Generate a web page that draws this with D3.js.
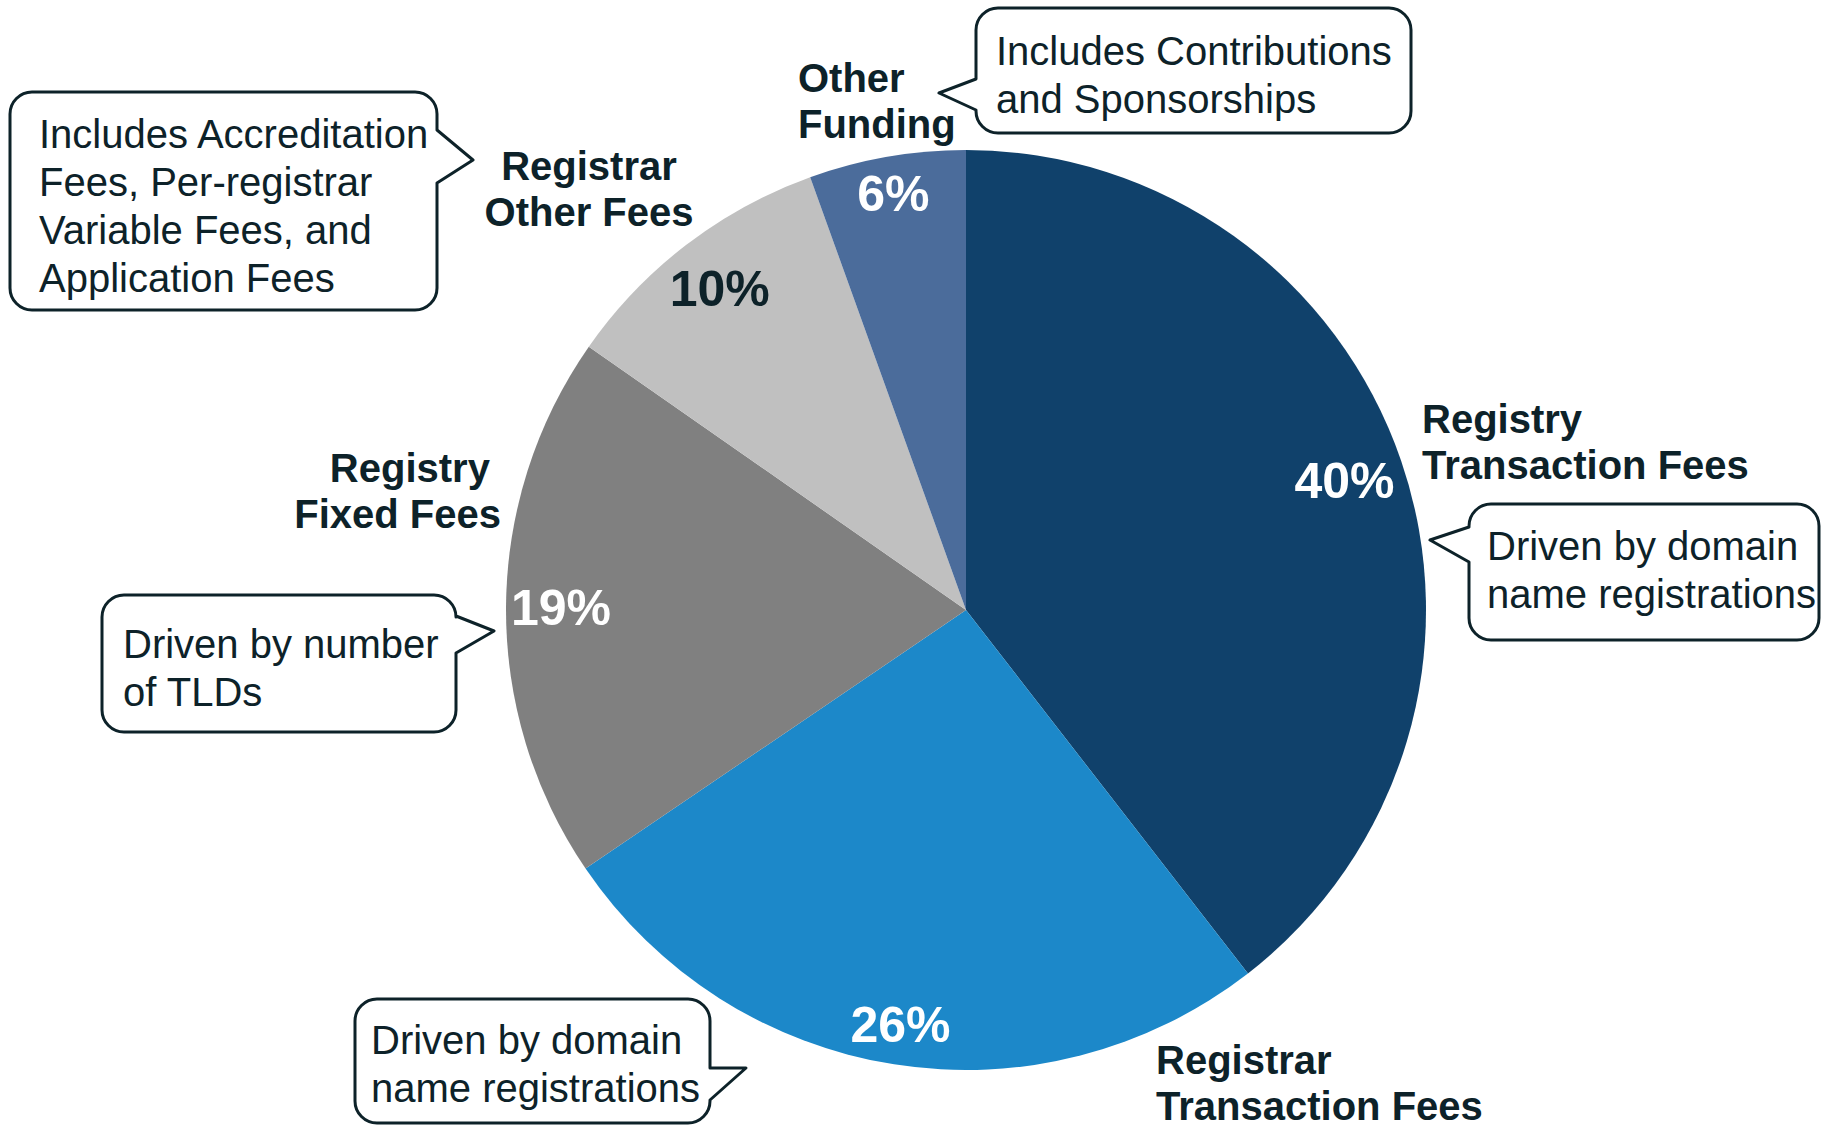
<!DOCTYPE html>
<html>
<head>
<meta charset="utf-8">
<script src="https://cdn.jsdelivr.net/npm/d3@7"></script>
<style>
  html, body { margin: 0; padding: 0; background: #fff; }
  svg { display: block; }
  text { font-family: "Liberation Sans", Arial, sans-serif; }
</style>
</head>
<body>
<svg id="chart" width="1822" height="1128"></svg>
<script>
// slices, clockwise from 12 o'clock
const categories = ["Registry Transaction Fees", "Registrar Transaction Fees", "Registry Fixed Fees", "Registrar Other Fees", "Other Funding"]
const shares = [39.5, 26.0, 19.2, 9.8, 5.5]
const pctLabels = ["40%", "26%", "19%", "10%", "6%"]
const notes = [
  ["Driven by domain", "name registrations"],
  ["Driven by domain", "name registrations"],
  ["Driven by number", "of TLDs"],
  ["Includes Accreditation", "Fees, Per-registrar", "Variable Fees, and", "Application Fees"],
  ["Includes Contributions", "and Sponsorships"]
]

const colors = ["#10416b", "#1c88c9", "#808080", "#c0c0c0", "#4b6c9b"]
const pctColors = ["#fff", "#fff", "#fff", "#0d2229", "#fff"]
const ink = "#0d2229"

const svg = d3.select("#chart")
const cx = 966, cy = 610, R = 460
// distance of each % label from the centre
const labelR = [400, 419, 405, 405, 423]

const pie = d3.pie().sort(null).value(d => d)
const arcs = pie(shares)
const arc = d3.arc().innerRadius(0).outerRadius(R)

const g = svg.append("g").attr("transform", `translate(${cx},${cy})`)

g.selectAll("path.slice")
  .data(arcs)
  .join("path")
  .attr("class", "slice")
  .attr("d", arc)
  .attr("fill", (d, i) => colors[i])

g.selectAll("text.pct")
  .data(arcs)
  .join("text")
  .attr("class", "pct")
  .attr("transform", (d, i) => {
    const a = d3.arc().innerRadius(labelR[i]).outerRadius(labelR[i])
    return `translate(${a.centroid(d)})`
  })
  .attr("text-anchor", "middle")
  .attr("dy", "0.36em")
  .attr("font-size", 50)
  .attr("font-weight", "bold")
  .attr("fill", (d, i) => pctColors[i])
  .text((d, i) => pctLabels[i])

// category label placement (split in two lines)
const catLines = [
  ["Registry", "Transaction Fees"],
  ["Registrar", "Transaction Fees"],
  ["Registry ", "Fixed Fees"],
  ["Registrar", "Other Fees"],
  ["Other", "Funding"]
]
const catPos = [
  {x: 1422, y: 433, anchor: "start"},
  {x: 1156, y: 1074, anchor: "start"},
  {x: 501, y: 482, anchor: "end"},
  {x: 589, y: 180, anchor: "middle"},
  {x: 798, y: 92, anchor: "start"}
]

catLines.forEach((lines, i) => {
  const t = svg.append("text")
    .attr("x", catPos[i].x).attr("y", catPos[i].y)
    .attr("text-anchor", catPos[i].anchor)
    .attr("font-size", 40).attr("font-weight", "bold")
    .attr("fill", ink)
    .style("white-space", "pre")
  lines.forEach((s, j) => {
    t.append("tspan").attr("x", catPos[i].x).attr("dy", j ? 46 : 0).text(s)
  })
})

// callout boxes: box edges, side of the pointer, pointer joins and tip
const callouts = [
  {x0: 1469, y0: 504, x1: 1819, y1: 640, side: "left", p1: 527, p2: 562, tip: [1430, 540], tx: 1487, ty: 560},
  {x0: 355, y0: 999, x1: 710, y1: 1123, side: "right", p1: 1068, p2: 1100, tip: [746, 1068], tx: 371, ty: 1054},
  {x0: 102, y0: 595, x1: 456, y1: 732, side: "right", p1: 616, p2: 653, tip: [494, 631], tx: 123, ty: 658},
  {x0: 10, y0: 92, x1: 437, y1: 310, side: "right", p1: 130, p2: 183, tip: [473, 160], tx: 39, ty: 148},
  {x0: 976, y0: 8, x1: 1411, y1: 133, side: "left", p1: 79, p2: 110, tip: [939, 93], tx: 996, ty: 65}
]

function bubble(c) {
  const r = 22, p = d3.path()
  p.moveTo(c.x0 + r, c.y0)
  p.lineTo(c.x1 - r, c.y0)
  p.arcTo(c.x1, c.y0, c.x1, c.y0 + r, r)
  if (c.side === "right") {
    p.lineTo(c.x1, c.p1)
    p.lineTo(c.tip[0], c.tip[1])
    p.lineTo(c.x1, c.p2)
  }
  p.lineTo(c.x1, c.y1 - r)
  p.arcTo(c.x1, c.y1, c.x1 - r, c.y1, r)
  p.lineTo(c.x0 + r, c.y1)
  p.arcTo(c.x0, c.y1, c.x0, c.y1 - r, r)
  if (c.side === "left") {
    p.lineTo(c.x0, c.p2)
    p.lineTo(c.tip[0], c.tip[1])
    p.lineTo(c.x0, c.p1)
  }
  p.lineTo(c.x0, c.y0 + r)
  p.arcTo(c.x0, c.y0, c.x0 + r, c.y0, r)
  p.closePath()
  return p.toString()
}

callouts.forEach((c, i) => {
  svg.append("path")
    .attr("d", bubble(c))
    .attr("fill", "#fff")
    .attr("stroke", ink)
    .attr("stroke-width", 3)
    .attr("stroke-linejoin", "round")
  const t = svg.append("text")
    .attr("x", c.tx).attr("y", c.ty)
    .attr("font-size", 40)
    .attr("fill", ink)
  notes[i].forEach((s, j) => {
    t.append("tspan").attr("x", c.tx).attr("dy", j ? 48 : 0).text(s)
  })
})
</script>
</body>
</html>
